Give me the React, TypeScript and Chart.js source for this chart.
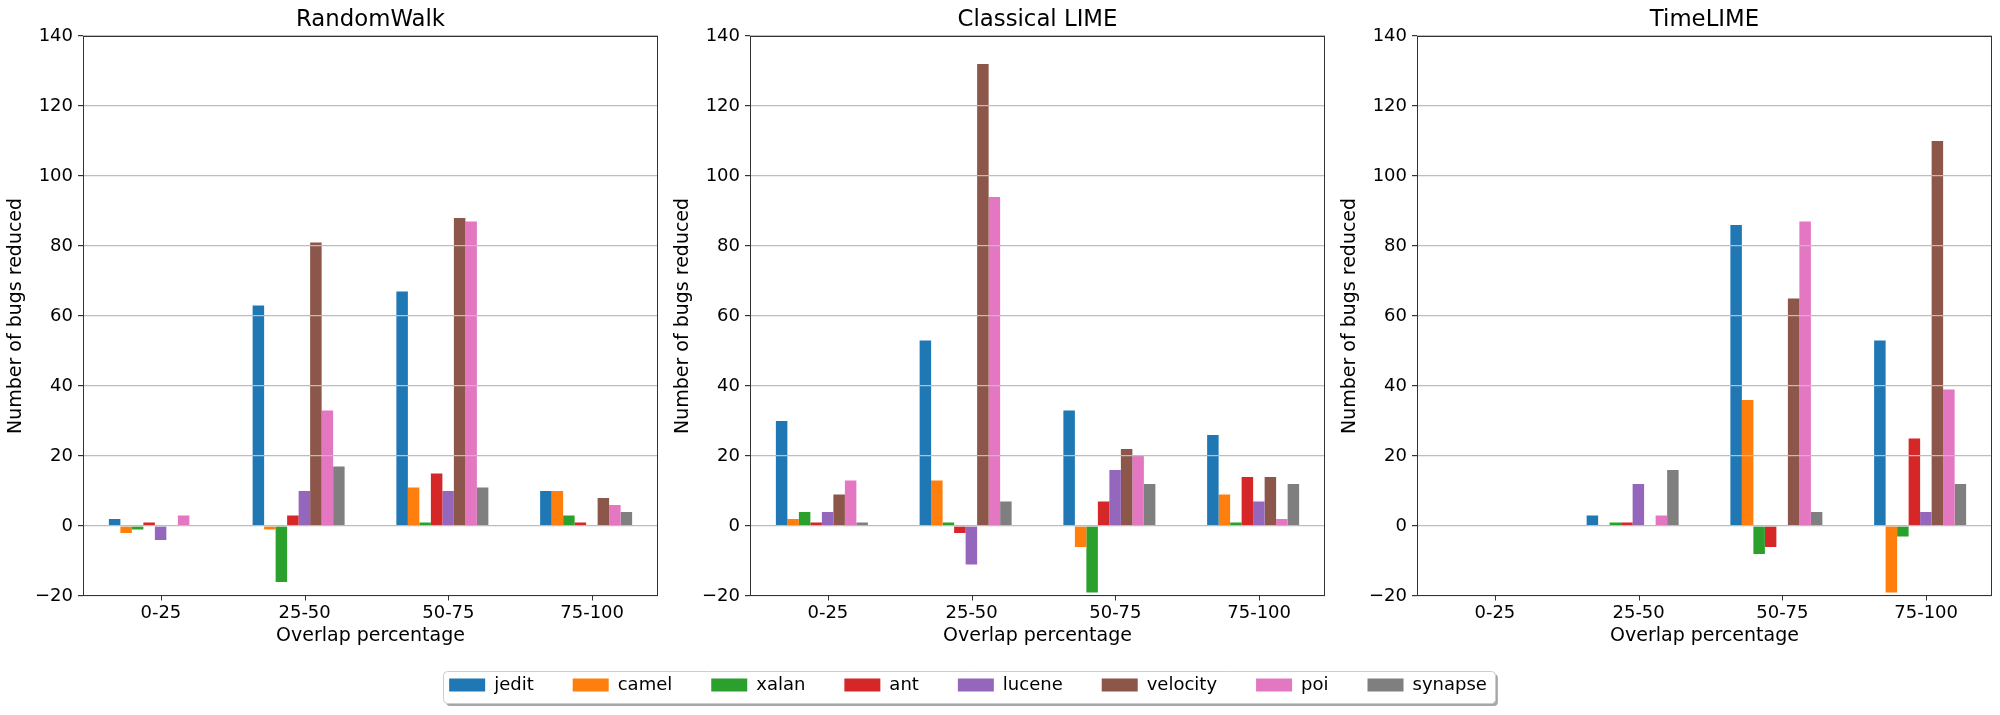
import React, { useEffect, useRef } from "react";
import { Chart, registerables } from "chart.js";

Chart.register(...registerables);

// ---------- data ----------
const categories = ["0-25", "25-50", "50-75", "75-100"];
const seriesNames = ["jedit", "camel", "xalan", "ant", "lucene", "velocity", "poi", "synapse"];
const seriesColors = ["#1f77b4", "#ff7f0e", "#2ca02c", "#d62728", "#9467bd", "#8c564b", "#e377c2", "#7f7f7f"];
const panelTitles = ["RandomWalk", "Classical LIME", "TimeLIME"];

// one row per series (seriesNames order), one value per category
const randomWalkValues = [
  [2, 63, 67, 10],
  [-2, -1, 11, 10],
  [-1, -16, 1, 3],
  [1, 3, 15, 1],
  [-4, 10, 10, 0],
  [0, 81, 88, 8],
  [3, 33, 87, 6],
  [0, 17, 11, 4],
];
const classicalLimeValues = [
  [30, 53, 33, 26],
  [2, 13, -6, 9],
  [4, 1, -19, 1],
  [1, -2, 7, 14],
  [4, -11, 16, 7],
  [9, 132, 22, 14],
  [13, 94, 20, 2],
  [1, 7, 12, 12],
];
const timeLimeValues = [
  [0, 3, 86, 53],
  [0, 0, 36, -19],
  [0, 1, -8, -3],
  [0, 1, -6, 25],
  [0, 12, 0, 4],
  [0, 0, 65, 110],
  [0, 3, 87, 39],
  [0, 16, 4, 12],
];
const yMin = -20;
const yMax = 140;
const yStep = 20;
const xAxisTitle = "Overlap percentage";
const yAxisTitle = "Number of bugs reduced";

// ---------- styling ----------
const FONT = "'DejaVu Sans', sans-serif";
const PANEL_W = 667;
const PANEL_H = 660;
const X_LABEL_SHIFT = 6;
const SPINE = "#333333";

Chart.defaults.font.family = FONT;
Chart.defaults.color = "#000";

const panelFramePlugin = {
  id: "panelFrame",
  afterDraw(chart: any) {
    const { ctx, chartArea: a } = chart;
    const xs = chart.scales.x;
    ctx.save();
    ctx.strokeStyle = SPINE;
    ctx.lineWidth = 1;
    const l = Math.round(a.left) + 0.5;
    const t = Math.round(a.top) + 0.5;
    const r = Math.round(a.right) - 0.5;
    const b = Math.round(a.bottom) - 0.5;
    ctx.strokeRect(l, t, r - l, b - t);
    ctx.beginPath();
    xs.ticks.forEach((_: any, i: number) => {
      const px = Math.round(xs.getPixelForTick(i) + X_LABEL_SHIFT) + 0.5;
      ctx.moveTo(px, b);
      ctx.lineTo(px, b + 5);
    });
    ctx.stroke();
    ctx.restore();
  },
};

function panelConfig(title: string, values: number[][]): any {
  return {
    type: "bar",
    data: {
      labels: categories,
      datasets: seriesNames.map((name, i) => ({
        label: name,
        data: values[i],
        backgroundColor: seriesColors[i],
        borderWidth: 0,
        categoryPercentage: 0.64,
        barPercentage: 1.0,
      })),
    },
    options: {
      animation: false,
      responsive: false,
      events: [],
      layout: { padding: { left: 0, right: 9, top: 0, bottom: 0 } },
      plugins: {
        legend: { display: false },
        tooltip: { enabled: false },
        title: {
          display: true,
          text: title,
          fullSize: false,
          color: "#000",
          font: { size: 22.8, family: FONT, weight: "normal" },
          padding: { top: 6.7, bottom: 1.9 },
        },
      },
      scales: {
        x: {
          type: "category",
          offset: true,
          grid: { display: false, drawTicks: false },
          border: { display: false },
          ticks: {
            color: "#000",
            font: { size: 18, family: FONT },
            padding: 6.3,
            labelOffset: X_LABEL_SHIFT,
            maxRotation: 0,
            autoSkip: false,
          },
          title: {
            display: true,
            text: xAxisTitle,
            color: "#000",
            font: { size: 19, family: FONT },
            padding: { top: 0, bottom: 12.6 },
          },
          afterFit: (s: any) => {
            s.height = 64;
          },
        },
        y: {
          min: yMin,
          max: yMax,
          grid: {
            color: "#bdbdbd",
            lineWidth: 1.2,
            z: 1,
            drawTicks: true,
            tickLength: 5,
            tickColor: SPINE,
          },
          border: { display: false },
          ticks: {
            stepSize: yStep,
            color: "#000",
            font: { size: 18, family: FONT },
            padding: 5,
            callback: (v: any) => String(v).replace("-", "\u2212"),
          },
          title: {
            display: true,
            text: yAxisTitle,
            color: "#000",
            font: { size: 19, family: FONT },
            padding: { top: 4.6, bottom: 0 },
          },
          afterFit: (s: any) => {
            s.width = 83;
          },
        },
      },
    },
    plugins: [panelFramePlugin],
  };
}

const legendFramePlugin = {
  id: "legendFrame",
  beforeDraw(chart: any) {
    const lg = chart.legend;
    const hb = lg && lg.legendHitBoxes;
    if (!hb || !hb.length) return;
    const first = hb[0];
    const last = hb[hb.length - 1];
    const left = first.left - 6;
    const right = last.left + last.width + 8;
    const top = first.top - 5;
    const bottom = first.top + 27;
    const ctx = chart.ctx;
    ctx.save();
    ctx.fillStyle = "rgba(0,0,0,0.35)";
    ctx.beginPath();
    ctx.roundRect(left + 3, top + 3, right - left, bottom - top, 4);
    ctx.fill();
    ctx.fillStyle = "#ffffff";
    ctx.strokeStyle = "#cccccc";
    ctx.lineWidth = 1;
    ctx.beginPath();
    ctx.roundRect(Math.round(left) + 0.5, Math.round(top) + 0.5, Math.round(right - left), Math.round(bottom - top), 4);
    ctx.fill();
    ctx.stroke();
    ctx.restore();
  },
};

function legendConfig(): any {
  return {
    type: "bar",
    data: {
      labels: [],
      datasets: seriesNames.map((name, i) => ({
        label: name,
        data: [],
        backgroundColor: seriesColors[i],
        borderWidth: 0,
      })),
    },
    options: {
      animation: false,
      responsive: false,
      events: [],
      layout: { padding: 0 },
      scales: { x: { display: false }, y: { display: false } },
      plugins: {
        tooltip: { enabled: false },
        title: { display: false },
        legend: {
          display: true,
          position: "top",
          align: "center",
          labels: {
            boxWidth: 36,
            boxHeight: 13,
            padding: 39,
            color: "#000",
            font: { size: 18, family: FONT },
          },
        },
      },
    },
    plugins: [legendFramePlugin],
  };
}

const LEGEND_W = 1200;
const LEGEND_H = 220;

export default function App() {
  const ref0 = useRef<HTMLCanvasElement | null>(null);
  const ref1 = useRef<HTMLCanvasElement | null>(null);
  const ref2 = useRef<HTMLCanvasElement | null>(null);
  const legendRef = useRef<HTMLCanvasElement | null>(null);

  useEffect(() => {
    document.body.style.margin = "0";
    const panels = [randomWalkValues, classicalLimeValues, timeLimeValues];
    const refs = [ref0, ref1, ref2];
    const charts: Chart[] = [];
    panels.forEach((vals, i) => {
      const c = refs[i].current;
      if (c) charts.push(new Chart(c, panelConfig(panelTitles[i], vals)));
    });
    if (legendRef.current) charts.push(new Chart(legendRef.current, legendConfig()));
    return () => charts.forEach((c) => c.destroy());
  }, []);

  const refs = [ref0, ref1, ref2];
  return (
    <div style={{ position: "relative", width: 2000, height: 715, background: "#fff", overflow: "hidden" }}>
      {panelTitles.map((t, i) => (
        <canvas
          key={t}
          ref={refs[i]}
          width={PANEL_W}
          height={PANEL_H}
          style={{ position: "absolute", left: i * PANEL_W, top: 0, width: PANEL_W, height: PANEL_H }}
        />
      ))}
      <canvas
        ref={legendRef}
        width={LEGEND_W}
        height={LEGEND_H}
        style={{ position: "absolute", left: 368, top: 637, width: LEGEND_W, height: LEGEND_H }}
      />
    </div>
  );
}
